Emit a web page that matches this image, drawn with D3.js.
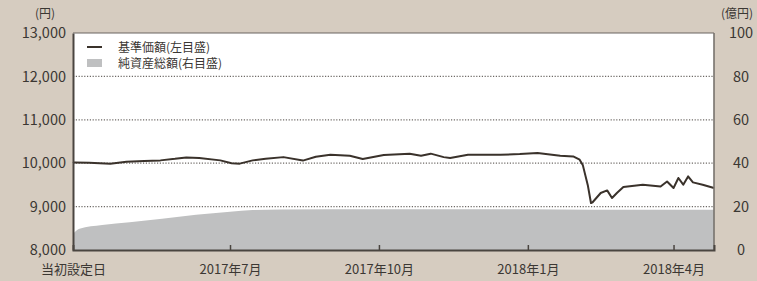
<!DOCTYPE html>
<html><head><meta charset="utf-8">
<script src="https://cdn.jsdelivr.net/npm/d3@7"></script>
<style>
body{margin:0;background:#d6ccc0;}
svg{display:block;}
text{font-family:"Noto Sans CJK JP","Noto Sans",sans-serif;fill:#3b3733;}
</style></head><body>
<svg id="c" width="757" height="281"></svg>
<script>
// ---- data ----
const navDates = ["2017-03-26","2017-03-27","2017-04-05","2017-04-18","2017-04-28","2017-05-09","2017-05-19","2017-05-28","2017-06-04","2017-06-12","2017-06-25","2017-07-02","2017-07-07","2017-07-15","2017-07-23","2017-08-03","2017-08-15","2017-08-23","2017-09-01","2017-09-13","2017-09-21","2017-10-04","2017-10-20","2017-10-27","2017-11-02","2017-11-10","2017-11-14","2017-11-25","2017-12-15","2017-12-27","2018-01-07","2018-01-21","2018-01-29","2018-02-02","2018-02-04","2018-02-07","2018-02-09","2018-02-10","2018-02-15","2018-02-19","2018-02-22","2018-02-25","2018-03-01","2018-03-13","2018-03-24","2018-03-28","2018-04-01","2018-04-04","2018-04-07","2018-04-10","2018-04-13","2018-04-19","2018-04-26"];
const navValues = [10000,10018,10010,9990,10035,10050,10065,10100,10134,10120,10065,10000,9990,10065,10100,10140,10060,10150,10195,10170,10095,10190,10220,10170,10220,10140,10120,10195,10195,10210,10235,10170,10155,10080,9950,9500,9083,9100,9313,9373,9198,9313,9452,9505,9465,9580,9428,9659,9505,9696,9558,9505,9428];
const assetDates = ["2017-03-26","2017-03-30","2017-04-13","2017-04-30","2017-05-20","2017-06-10","2017-07-01","2017-07-15","2017-08-01","2017-10-01","2018-01-01","2018-02-09","2018-04-26"];
const assetValues = [7.5,9.8,11.5,12.8,14.4,16.2,17.6,18.4,18.7,18.8,18.8,18.6,18.6];
const leftTicks = [8000,9000,10000,11000,12000,13000];
const rightTicks = [0,20,40,60,80,100];
const xTickDates = ["2017-03-26","2017-07-01","2017-10-01","2018-01-01","2018-04-01"];
const xTickLabels = ["当初設定日","2017年7月","2017年10月","2018年1月","2018年4月"];
const legendLabels = ["基準価額(左目盛)","純資産総額(右目盛)"];

// ---- layout ----
const parse = d3.timeParse("%Y-%m-%d");
const L = 73, R = 714, T = 33, B = 250;
const svg = d3.select("#c");
const x = d3.scaleTime().domain([parse("2017-03-26"), parse("2018-04-26")]).range([L, R]);
const yL = d3.scaleLinear().domain([8000, 13000]).range([B, T]);
const yR = d3.scaleLinear().domain([0, 100]).range([B, T]);

svg.append("rect").attr("x",L).attr("y",T).attr("width",R-L).attr("height",B-T).attr("fill","#ffffff");

// area
const aData = assetDates.map((d,i)=>({d:parse(d),v:assetValues[i]}));
svg.append("path").datum(aData)
  .attr("d", d3.area().x(d=>x(d.d)).y0(B).y1(d=>yR(d.v)).curve(d3.curveMonotoneX))
  .attr("fill","#bfc0c1");

// grid
svg.append("g").selectAll("line").data(leftTicks.filter(t=>t>8000 && t<13000)).join("line")
  .attr("x1",L).attr("x2",R).attr("y1",d=>yL(d)).attr("y2",d=>yL(d))
  .attr("stroke","#6e6a66").attr("stroke-width",1.3).attr("stroke-dasharray","1.2,1.6");

// line
const nData = navDates.map((d,i)=>({d:parse(d),v:navValues[i]}));
svg.append("path").datum(nData)
  .attr("d", d3.line().x(d=>x(d.d)).y(d=>yL(d.v)))
  .attr("fill","none").attr("stroke","#3a322b").attr("stroke-width",2).attr("stroke-linejoin","round");

// frame
svg.append("line").attr("x1",L).attr("x2",R).attr("y1",T).attr("y2",T).attr("stroke","#6b6560").attr("stroke-width",1.2);
svg.append("line").attr("x1",R).attr("x2",R).attr("y1",T).attr("y2",B).attr("stroke","#77726d").attr("stroke-width",1.6);

// axes
const axL = svg.append("g").attr("transform",`translate(${L},0)`)
  .call(d3.axisLeft(yL).tickValues(leftTicks).tickFormat(d3.format(",")).tickSize(0).tickPadding(7));
axL.select(".domain").attr("stroke","#4a4540").attr("stroke-width",2);
axL.selectAll("text").attr("font-size",14.5).attr("font-family","'Open Sans','Noto Sans',sans-serif").attr("fill","#3b3733");

const axR = svg.append("g").attr("transform",`translate(${R},0)`)
  .call(d3.axisRight(yR).tickValues(rightTicks).tickSize(0).tickPadding(0));
axR.select(".domain").remove();
axR.selectAll("text").attr("font-size",14.5).attr("text-anchor","middle").attr("x",27)
  .attr("font-family","'Open Sans','Noto Sans',sans-serif").attr("fill","#3b3733");

const axB = svg.append("g").attr("transform",`translate(0,${B})`)
  .call(d3.axisBottom(x).tickValues(xTickDates.map(parse)).tickFormat((d,i)=>xTickLabels[i]).tickSize(-5).tickPadding(10));
axB.select(".domain").attr("stroke","#4a4540").attr("stroke-width",2);
axB.selectAll(".tick line").attr("stroke","#4a4540").attr("stroke-width",1.5);
axB.selectAll(".tick").filter((d,i)=>i===0).select("line").remove();
axB.selectAll("text").attr("font-size",13).attr("y",23.5).attr("dy",0).attr("fill","#3b3733");

// units
svg.append("text").attr("x",45).attr("y",18).attr("text-anchor","middle").attr("font-size",12).text("(円)");
svg.append("text").attr("x",737).attr("y",18).attr("text-anchor","middle").attr("font-size",12).text("(億円)");

// legend
const lg = svg.append("g");
lg.append("line").attr("x1",87).attr("x2",102).attr("y1",47).attr("y2",47).attr("stroke","#3a322b").attr("stroke-width",2);
lg.append("rect").attr("x",87).attr("y",59).attr("width",15).attr("height",8).attr("fill","#bfc0c1");
lg.selectAll("text").data(legendLabels).join("text")
  .attr("x",118).attr("y",(d,i)=>51.5+i*16).attr("font-size",12).attr("fill","#55504b").text(d=>d);
</script>
</body></html>
